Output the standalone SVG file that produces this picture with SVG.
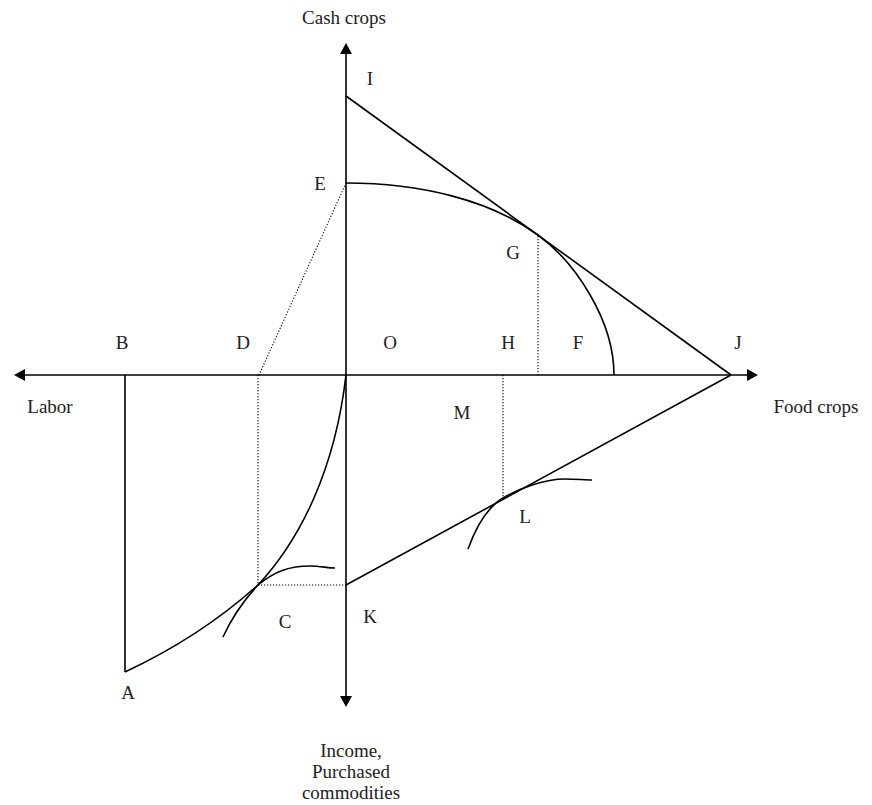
<svg xmlns="http://www.w3.org/2000/svg" width="872" height="805" viewBox="0 0 872 805">
<style>
.ax{stroke:#000;stroke-width:1.6;fill:none}
.ln{stroke:#000;stroke-width:1.6;fill:none}
.dt{stroke:#000;stroke-width:1.1;fill:none;stroke-dasharray:1.2,1.8}
.t{font-family:"Liberation Serif","Times New Roman",serif;font-size:19px;fill:#222;text-anchor:middle}
</style>
<rect width="872" height="805" fill="#fff"/>
<g id="axes">
<line class="ax" x1="22" y1="375" x2="750" y2="375"/>
<line class="ax" x1="346" y1="52" x2="346" y2="698"/>
<polygon points="346,43 340,54 352,54" fill="#000"/>
<polygon points="346,707 340,696 352,696" fill="#000"/>
<polygon points="14,375 25,369 25,381" fill="#000"/>
<polygon points="758,375 747,369 747,381" fill="#000"/>
</g>
<g id="connectors">
<line class="ln" x1="346" y1="96" x2="731" y2="375"/>
<line class="ln" x1="346" y1="585" x2="731" y2="375"/>
<polyline class="ln" points="125,375 125,672"/>
<path class="ln" d="M346,183 C420,183 490,200 538,235 C575,262 614,320 614,375"/>
<path class="ln" d="M346,375 C335,470 300,540 258,585 C245,599 232,617 223,637"/>
<path class="ln" d="M125,672 C185,644 228,612 258,585 C275,571 290,566 310,566 C320,566 328,568 335,568"/>
<path class="ln" d="M468,549 C476,527 486,508 503,498 C520,488 545,479 565,479 C575,479 585,480 592,480"/>
<line class="dt" x1="346" y1="183" x2="259" y2="375"/>
<line class="dt" x1="258" y1="375" x2="258" y2="585"/>
<line class="dt" x1="258" y1="585" x2="346" y2="585"/>
<line class="dt" x1="538" y1="236" x2="538" y2="375"/>
<line class="dt" x1="503" y1="375" x2="503" y2="497"/>
</g>
<g id="labels">
<text class="t" x="344" y="24">Cash crops</text>
<text class="t" x="370" y="85">I</text>
<text class="t" x="320" y="190">E</text>
<text class="t" x="513" y="259">G</text>
<text class="t" x="122" y="349">B</text>
<text class="t" x="243" y="349">D</text>
<text class="t" x="390" y="349">O</text>
<text class="t" x="508" y="349">H</text>
<text class="t" x="578" y="349">F</text>
<text class="t" x="738" y="349">J</text>
<text class="t" x="50" y="413">Labor</text>
<text class="t" x="816" y="413">Food crops</text>
<text class="t" x="462" y="419">M</text>
<text class="t" x="525" y="523">L</text>
<text class="t" x="285" y="628">C</text>
<text class="t" x="370" y="623">K</text>
<text class="t" x="128" y="699">A</text>
<text class="t" x="351" y="757">Income,</text>
<text class="t" x="351" y="778">Purchased</text>
<text class="t" x="351" y="799">commodities</text>
</g>
</svg>
